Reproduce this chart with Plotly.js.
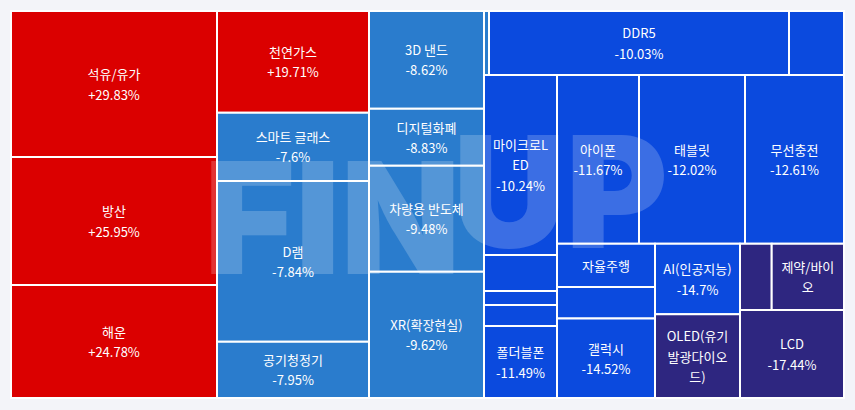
<!DOCTYPE html>
<html>
<head>
<meta charset="utf-8">
<script src="https://cdn.plot.ly/plotly-3.0.1.min.js"></script>
<style>
  html, body { margin: 0; padding: 0; background: #f3f4f9; }
  #chart { width: 855px; height: 410px; }
</style>
</head>
<body>
<div id="chart"></div>
<script>
// Theme names (empty = tile too small, name not shown)
const labels = ['석유/유가','방산','해운','천연가스','스마트 글래스','D램','공기청정기',
  '3D 낸드','디지털화폐','차량용 반도체','XR(확장현실)','','DDR5','',
  '마이크로LED','','','','폴더블폰','아이폰','태블릿','무선충전',
  '자율주행','','갤럭시','AI(인공지능)','OLED(유기발광다이오드)','','제약/바이오','LCD'];
// Displayed (wrapped) names
const displayNames = ['석유/유가','방산','해운','천연가스','스마트 글래스','D램','공기청정기',
  '3D 낸드','디지털화폐','차량용 반도체','XR(확장현실)','','DDR5','',
  '마이크로L<br>ED','','','','폴더블폰','아이폰','태블릿','무선충전',
  '자율주행','','갤럭시','AI(인공지능)','OLED(유기<br>발광다이오<br>드)','','제약/바이<br>오','LCD'];
// Change rate (%) — used for colour and the second text line
const changes = [29.83,25.95,24.78,19.71,-7.6,-7.84,-7.95,
  -8.62,-8.83,-9.48,-9.62,-9.9,-10.03,-10.1,
  -10.24,-10.4,-10.8,-11.2,-11.49,-11.67,-12.02,-12.61,
  -13.5,-14.2,-14.52,-14.7,-15.5,-16.0,-16.5,-17.44];
// Whether the change value is printed in the tile
const showValue = [1,1,1,1,1,1,1, 1,1,1,1,0,1,0, 1,0,0,0,1,1,1,1, 0,0,1,1,0,0,0,1];
// Tile size weights
const sizes = [30076,26368,23278,15458,10382,24426,8558,
  11236,6555,12190,14525,320,19200,3520,
  13140,2628,1022,1533,5256,13833,17882,16701,
  4243,3087,7791,6001,7115,2102,4793,9152];
// Watermark pieces
const watermark = ['FIN', 'UP'];

function colorFor(v) {
  if (v > 0) return '#db0000';
  if (v > -10) return '#2a7ccd';
  if (v > -15) return '#0b4ade';
  return '#2e2680';
}
function fmt(v) { return (v > 0 ? '+' : '') + v + '%'; }
function span(s) { return '<span style="font-size:13px">' + s + '</span>'; }

const ids = labels.map((l, i) => l || ('tile' + i));
const texts = displayNames.map((n, i) => {
  if (!n) return '';
  const lines = n.split('<br>');
  if (showValue[i]) lines.push(fmt(changes[i]));
  return lines.map(span).join('<br>');
});

const trace = {
  type: 'treemap',
  ids: ids,
  labels: labels,
  parents: labels.map(() => ''),
  values: sizes,
  text: texts,
  texttemplate: '%{text}',
  textposition: 'middle center',
  textfont: { family: '"Noto Sans CJK KR", "Noto Sans", sans-serif', size: 15.5, color: '#ffffff' },
  sort: false,
  tiling: { packing: 'squarify', squarifyratio: 1.618034, pad: 0 },
  marker: {
    colors: changes.map(colorFor),
    line: { color: '#ffffff', width: 2 },
    pad: { t: 0, l: 0, r: 0, b: 0 }
  },
  pathbar: { visible: false },
  hoverinfo: 'none'
};

const wmFont = { family: 'Inter, Roboto, Lato, sans-serif', size: 156, weight: 900, color: 'rgba(255,255,255,0.2)' };
const layout = {
  width: 855,
  height: 410,
  margin: { l: 11, r: 11, t: 11, b: 12, pad: 0 },
  paper_bgcolor: '#f3f4f9',
  plot_bgcolor: '#f3f4f9',
  showlegend: false,
  annotations: [
    { text: watermark[0], xref: 'paper', yref: 'paper', x: 0.3854, y: 0.4677,
      xanchor: 'center', yanchor: 'middle', showarrow: false, font: wmFont },
    { text: watermark[1], xref: 'paper', yref: 'paper', x: 0.6595, y: 0.5323,
      xanchor: 'center', yanchor: 'middle', showarrow: false, font: wmFont }
  ]
};

Plotly.newPlot('chart', [trace], layout, { displayModeBar: false, staticPlot: true });
</script>
</body>
</html>
